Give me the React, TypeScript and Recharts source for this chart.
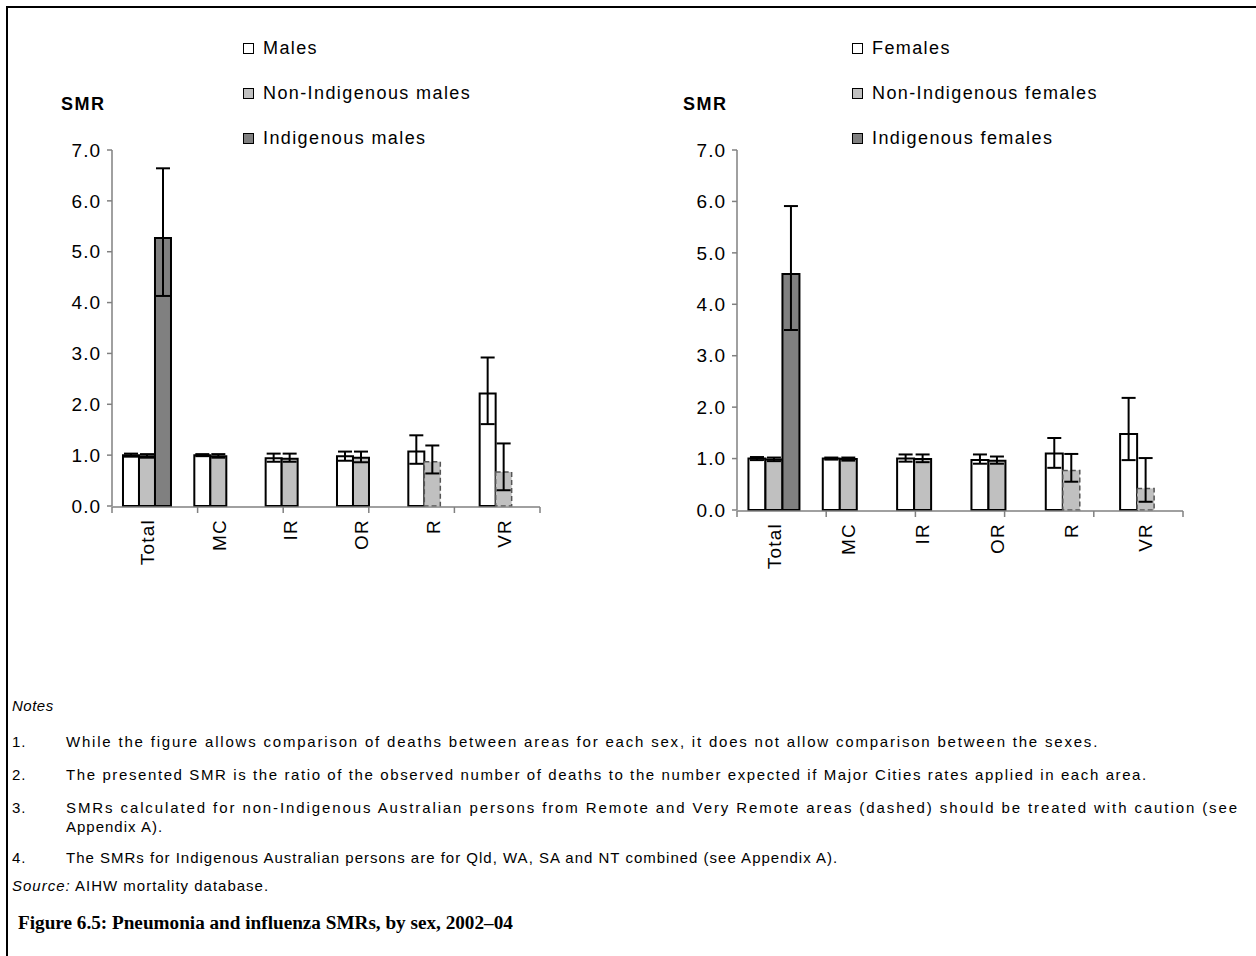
import React from 'react';
import { BarChart, Bar, XAxis, YAxis, ErrorBar, Cell } from 'recharts';

const categories = ['Total', 'MC', 'IR', 'OR', 'R', 'VR'];
const yTicks = [0, 1, 2, 3, 4, 5, 6, 7];
const boundaryTicks = [0, 1, 2, 3, 4, 5, 6];
const dashedCategories = ['R', 'VR'];

// Males
const maleAll = [1.0, 1.0, 0.94, 0.98, 1.07, 2.21];
const maleAllLow = [0.97, 0.98, 0.87, 0.89, 0.83, 1.61];
const maleAllHigh = [1.03, 1.02, 1.03, 1.07, 1.39, 2.92];
const maleNonInd = [0.98, 0.98, 0.93, 0.95, 0.87, 0.67];
const maleNonIndLow = [0.95, 0.95, 0.87, 0.86, 0.64, 0.31];
const maleNonIndHigh = [1.02, 1.02, 1.03, 1.07, 1.19, 1.23];
const maleInd = [5.27, null, null, null, null, null];
const maleIndLow = [4.13, null, null, null, null, null];
const maleIndHigh = [6.64, null, null, null, null, null];

// Females
const femaleAll = [1.0, 1.0, 1.0, 0.97, 1.1, 1.48];
const femaleAllLow = [0.97, 0.98, 0.94, 0.9, 0.82, 0.97];
const femaleAllHigh = [1.03, 1.02, 1.08, 1.08, 1.4, 2.18];
const femaleNonInd = [0.98, 0.99, 0.99, 0.96, 0.77, 0.42];
const femaleNonIndLow = [0.95, 0.96, 0.93, 0.9, 0.55, 0.16];
const femaleNonIndHigh = [1.02, 1.02, 1.08, 1.04, 1.09, 1.01];
const femaleInd = [4.59, null, null, null, null, null];
const femaleIndLow = [3.5, null, null, null, null, null];
const femaleIndHigh = [5.91, null, null, null, null, null];

const maleLegend = ['Males', 'Non-Indigenous males', 'Indigenous males'];
const femaleLegend = ['Females', 'Non-Indigenous females', 'Indigenous females'];
const notes = [
  'While the figure allows comparison of deaths between areas for each sex, it does not allow comparison between the sexes.',
  'The presented SMR is the ratio of the observed number of deaths to the number expected if Major Cities rates applied in each area.',
  'SMRs calculated for non-Indigenous Australian persons from Remote and Very Remote areas (dashed) should be treated with caution (see Appendix A).',
  'The SMRs for Indigenous Australian persons are for Qld, WA, SA and NT combined (see Appendix A).',
];

const FILLS = ['#FFFFFF', '#C0C0C0', '#808080'];
const FONT = '"Liberation Sans", Arial, sans-serif';

type V = number | null;
const err = (v: V, lo: V, hi: V) => (v == null || lo == null || hi == null ? undefined : [v - lo, hi - v]);

function buildRows(all: V[], allLo: V[], allHi: V[], non: V[], nonLo: V[], nonHi: V[], ind: V[], indLo: V[], indHi: V[]) {
  return categories.map((c, i) => ({
    cat: c,
    all: all[i],
    allErr: err(all[i], allLo[i], allHi[i]),
    non: non[i],
    nonErr: err(non[i], nonLo[i], nonHi[i]),
    ind: ind[i],
    indErr: err(ind[i], indLo[i], indHi[i]),
  }));
}

const maleRows = buildRows(maleAll, maleAllLow, maleAllHigh, maleNonInd, maleNonIndLow, maleNonIndHigh, maleInd, maleIndLow, maleIndHigh);
const femaleRows = buildRows(femaleAll, femaleAllLow, femaleAllHigh, femaleNonInd, femaleNonIndLow, femaleNonIndHigh, femaleInd, femaleIndLow, femaleIndHigh);

const EmptyTick = () => <g />;

const CatTick = (props: any) => {
  const { x, y, payload } = props;
  return (
    <text
      x={x}
      y={y}
      transform={`rotate(-90 ${x} ${y})`}
      textAnchor="end"
      dominantBaseline="central"
      fontSize={19}
      fontFamily={FONT}
      letterSpacing={1.2}
      fill="#000"
    >
      {payload.value}
    </text>
  );
};

function Panel({ rows, width, height, margin }: any) {
  return (
    <BarChart width={width} height={height} data={rows} margin={margin} barCategoryGap="15.4%" barGap={0}>
      <XAxis
        xAxisId="grid"
        type="number"
        domain={[0, 6]}
        ticks={boundaryTicks}
        allowDataOverflow
        tick={<EmptyTick />}
        tickSize={6}
        height={1}
        stroke="#808080"
        axisLine={{ stroke: '#808080', strokeWidth: 1.5 }}
        tickLine={{ stroke: '#808080', strokeWidth: 1.5 }}
      />
      <XAxis
        xAxisId="cat"
        dataKey="cat"
        type="category"
        height={1}
        axisLine={false}
        tickLine={false}
        tickSize={0}
        tickMargin={13}
        interval={0}
        tick={<CatTick />}
      />
      <YAxis
        domain={[0, 7]}
        ticks={yTicks}
        width={1}
        interval={0}
        tickFormatter={(v: number) => v.toFixed(1)}
        tickSize={5}
        tickMargin={6}
        axisLine={{ stroke: '#808080', strokeWidth: 1.5 }}
        tickLine={{ stroke: '#808080', strokeWidth: 1.5 }}
        tick={{ fill: '#000', fontSize: 19, fontFamily: FONT, letterSpacing: 1 }}
      />
      <Bar xAxisId="cat" dataKey="all" fill={FILLS[0]} stroke="#000" strokeWidth={2} isAnimationActive={false}>
        <ErrorBar dataKey="allErr" width={7} strokeWidth={2} stroke="#000" direction="y" />
      </Bar>
      <Bar xAxisId="cat" dataKey="non" fill={FILLS[1]} stroke="#000" strokeWidth={2} isAnimationActive={false}>
        {rows.map((r: any) => (
          <Cell
            key={r.cat}
            stroke={dashedCategories.includes(r.cat) ? '#555' : '#000'}
            strokeWidth={dashedCategories.includes(r.cat) ? 1.5 : 2}
            strokeDasharray={dashedCategories.includes(r.cat) ? '5 3' : undefined}
          />
        ))}
        <ErrorBar dataKey="nonErr" width={7} strokeWidth={2} stroke="#000" direction="y" />
      </Bar>
      <Bar xAxisId="cat" dataKey="ind" fill={FILLS[2]} stroke="#000" strokeWidth={2} isAnimationActive={false}>
        <ErrorBar dataKey="indErr" width={7} strokeWidth={2} stroke="#000" direction="y" />
      </Bar>
    </BarChart>
  );
}

function Legend({ items, left, top }: any) {
  const rowTops = [0, 45, 90];
  return (
    <>
      {items.map((t: string, i: number) => (
        <div key={t} style={{ position: 'absolute', left, top: top + rowTops[i], height: 22, display: 'flex', alignItems: 'center' }}>
          <div style={{ width: 9, height: 9, border: '1.5px solid #000', background: FILLS[i], marginRight: 9 }} />
          <span style={{ fontFamily: FONT, fontSize: 18, letterSpacing: 1.4, color: '#000', whiteSpace: 'nowrap' }}>{t}</span>
        </div>
      ))}
    </>
  );
}

export default function App() {
  const noteStyle: React.CSSProperties = { position: 'absolute', fontFamily: FONT, fontSize: 15, letterSpacing: 1.0, color: '#000', whiteSpace: 'nowrap' };
  const noteTops = [733, 766, 799, 849];
  const noteSpacing = [1.8, 1.6, 1.9, 1.0];
  return (
    <div style={{ position: 'absolute', left: 0, top: 0, width: 1256, height: 956, background: '#fff', overflow: 'hidden' }}>
      <div style={{ position: 'absolute', left: 6, top: 6, right: -10, bottom: -10, borderLeft: '2px solid #000', borderTop: '2px solid #000' }} />

      <div style={{ position: 'absolute', left: 0, top: 0 }}>
        <Panel rows={maleRows} width={600} height={620} margin={{ top: 150, left: 111, right: 60, bottom: 112 }} />
      </div>
      <div style={{ position: 'absolute', left: 620, top: 0 }}>
        <Panel rows={femaleRows} width={620} height={620} margin={{ top: 150, left: 116, right: 57, bottom: 108 }} />
      </div>

      <div style={{ position: 'absolute', left: 61, top: 94, fontFamily: FONT, fontWeight: 'bold', fontSize: 18, letterSpacing: 1.5 }}>SMR</div>
      <div style={{ position: 'absolute', left: 683, top: 94, fontFamily: FONT, fontWeight: 'bold', fontSize: 18, letterSpacing: 1.5 }}>SMR</div>

      <Legend items={maleLegend} left={243} top={37} />
      <Legend items={femaleLegend} left={852} top={37} />

      <div style={{ ...noteStyle, left: 12, top: 697, fontStyle: 'italic', letterSpacing: 0.5 }}>Notes</div>
      {notes.map((n, i) => (
        <React.Fragment key={i}>
          <div style={{ ...noteStyle, left: 12, top: noteTops[i] }}>{i + 1}.</div>
          {i === 2 ? (
            <>
              <div style={{ ...noteStyle, left: 66, top: noteTops[i], letterSpacing: noteSpacing[i] }}>{n.replace(' Appendix A).', '')}</div>
              <div style={{ ...noteStyle, left: 66, top: noteTops[i] + 19 }}>Appendix A).</div>
            </>
          ) : (
            <div style={{ ...noteStyle, left: 66, top: noteTops[i], letterSpacing: noteSpacing[i] }}>{n}</div>
          )}
        </React.Fragment>
      ))}
      <div style={{ ...noteStyle, left: 12, top: 877 }}>
        <i>Source:</i> AIHW mortality database.
      </div>
      <div style={{ position: 'absolute', left: 18, top: 912, fontFamily: '"Liberation Serif", "DejaVu Serif", serif', fontWeight: 'bold', fontSize: 19.2, color: '#000', whiteSpace: 'nowrap' }}>
        Figure 6.5: Pneumonia and influenza SMRs, by sex, 2002–04
      </div>
    </div>
  );
}
